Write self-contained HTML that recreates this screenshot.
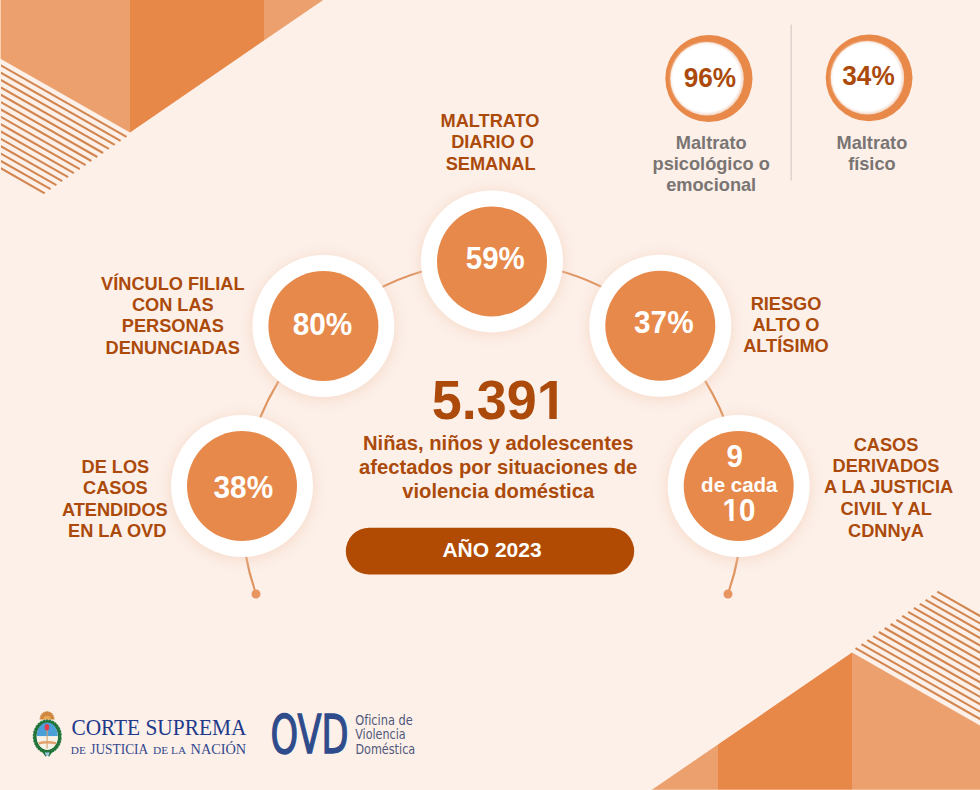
<!DOCTYPE html>
<html lang="es">
<head>
<meta charset="utf-8">
<title>OVD 2023</title>
<style>
html,body{margin:0;padding:0;}
body{width:980px;height:790px;overflow:hidden;background:#fcf0e9;position:relative;}
svg{position:absolute;left:0;top:0;display:block;}
text{font-family:"Liberation Sans",Arial,sans-serif;}
.b{font-weight:bold;}
.serif text{font-family:"Liberation Serif",serif;}
.dj text{font-family:"DejaVu Sans",sans-serif;font-stretch:condensed;}
.lbl{font-weight:bold;font-size:18.2px;fill:#ab4a0a;}
.gr{font-weight:bold;font-size:18.2px;fill:#7a7573;}
.wt{font-weight:bold;fill:#fff;}
</style>
</head>
<body>
<svg width="980" height="790" viewBox="0 0 980 790">
  <defs>
    <clipPath id="c1"><polygon points="420,370 580,370 580,425 567,425 567,412.9 556.72,412.9 556.72,425 549.32,425 549.32,412.9 539,412.9 539,425 420,425"/></clipPath>
    <clipPath id="c2"><polygon points="700,490 780,490 780,530 739.4,530 739.4,516.9 733.55,516.9 733.55,530 729.5,530 729.5,516.9 722.4,516.9 722.4,530 700,530"/></clipPath>
    <filter id="sb" x="-10%" y="-10%" width="120%" height="120%">
      <feGaussianBlur stdDeviation="1"/>
    </filter>
    <filter id="sh" x="-30%" y="-30%" width="160%" height="160%">
      <feGaussianBlur stdDeviation="7"/>
    </filter>
  </defs>
  <g>
      <polygon points="-30,-30 130,-30 130,132.4 -30,41.4" fill="#eca06e"/>
      <polygon points="130,-30 264,-30 264,40.5 130,132.4" fill="#e88848"/>
      <polygon points="264,-30 367,-30 264,40.5" fill="#eca06e"/>
      <g stroke="#d2854f" stroke-width="2.1">
        <line x1="-30" y1="47.8" x2="126.5" y2="136.9"/>
        <line x1="-30" y1="55.2" x2="120.6" y2="140.9"/>
        <line x1="-30" y1="62.5" x2="114.8" y2="144.9"/>
        <line x1="-30" y1="69.9" x2="108.9" y2="148.9"/>
        <line x1="-30" y1="77.2" x2="103.1" y2="153.0"/>
        <line x1="-30" y1="84.6" x2="97.3" y2="157.0"/>
        <line x1="-30" y1="91.9" x2="91.4" y2="161.0"/>
        <line x1="-30" y1="99.3" x2="85.6" y2="165.1"/>
        <line x1="-30" y1="106.6" x2="79.8" y2="169.1"/>
        <line x1="-30" y1="114.0" x2="73.9" y2="173.1"/>
        <line x1="-30" y1="121.3" x2="68.1" y2="177.1"/>
        <line x1="-30" y1="128.7" x2="62.2" y2="181.2"/>
        <line x1="-30" y1="136.0" x2="56.4" y2="185.2"/>
        <line x1="-30" y1="143.4" x2="50.6" y2="189.2"/>
        <line x1="-30" y1="150.7" x2="44.7" y2="193.3"/>
      </g>
  </g>
  <g transform="rotate(180 491 392.5)">
      <polygon points="-30,-30 130,-30 130,132.4 -30,41.4" fill="#eca06e"/>
      <polygon points="130,-30 264,-30 264,40.5 130,132.4" fill="#e88848"/>
      <polygon points="264,-30 367,-30 264,40.5" fill="#eca06e"/>
      <g stroke="#d2854f" stroke-width="2.1">
        <line x1="-30" y1="47.8" x2="126.5" y2="136.9"/>
        <line x1="-30" y1="55.2" x2="120.6" y2="140.9"/>
        <line x1="-30" y1="62.5" x2="114.8" y2="144.9"/>
        <line x1="-30" y1="69.9" x2="108.9" y2="148.9"/>
        <line x1="-30" y1="77.2" x2="103.1" y2="153.0"/>
        <line x1="-30" y1="84.6" x2="97.3" y2="157.0"/>
        <line x1="-30" y1="91.9" x2="91.4" y2="161.0"/>
        <line x1="-30" y1="99.3" x2="85.6" y2="165.1"/>
        <line x1="-30" y1="106.6" x2="79.8" y2="169.1"/>
        <line x1="-30" y1="114.0" x2="73.9" y2="173.1"/>
        <line x1="-30" y1="121.3" x2="68.1" y2="177.1"/>
        <line x1="-30" y1="128.7" x2="62.2" y2="181.2"/>
        <line x1="-30" y1="136.0" x2="56.4" y2="185.2"/>
        <line x1="-30" y1="143.4" x2="50.6" y2="189.2"/>
        <line x1="-30" y1="150.7" x2="44.7" y2="193.3"/>
      </g>
  </g>
  <rect x="0" y="0" width="1" height="58.6" fill="#fbd2ad"/>
  <rect x="0" y="58.6" width="1" height="120" fill="#fcf0e9"/>
  <rect x="652" y="789" width="328" height="1" fill="#ffffff" opacity="0.25"/>

  <!-- arc -->
  <path d="M256,594 A250,250 0 1 1 728,594" fill="none" stroke="#df9562" stroke-width="2.2"/>
  <circle cx="256" cy="594" r="4.5" fill="#e8955f"/>
  <circle cx="728" cy="594" r="4.5" fill="#e8955f"/>
  <!-- divider -->
  <line x1="791.2" y1="24.5" x2="791.2" y2="180.5" stroke="#d6ccc7" stroke-width="1.2"/>

  <!-- big circles -->
  <g id="bigc">
    <g fill="#f3c8b0" opacity="0.55" filter="url(#sh)">
      <circle cx="492" cy="263" r="72"/>
      <circle cx="323.4" cy="328" r="72"/>
      <circle cx="660.3" cy="328" r="72"/>
      <circle cx="242" cy="488" r="72"/>
      <circle cx="738.7" cy="488" r="72"/>
    </g>
    <g fill="#fff">
      <circle cx="492" cy="261.4" r="71"/>
      <circle cx="323.4" cy="326" r="71"/>
      <circle cx="660.3" cy="325.8" r="71"/>
      <circle cx="242" cy="486" r="71"/>
      <circle cx="738.7" cy="486" r="71"/>
    </g>
    <g fill="#e6894a">
      <circle cx="492" cy="261.4" r="55"/>
      <circle cx="323.4" cy="326" r="55"/>
      <circle cx="660.3" cy="325.8" r="55"/>
      <circle cx="242" cy="486" r="55"/>
      <circle cx="738.7" cy="486" r="55"/>
    </g>
  </g>

  <g class="wt" text-anchor="middle">
    <text transform="translate(495.3 269.3) scale(0.92 1)" font-size="32">59%</text>
    <text transform="translate(322.5 335.3) scale(0.93 1)" font-size="32">80%</text>
    <text transform="translate(663.8 333.2) scale(0.93 1)" font-size="32">37%</text>
    <text transform="translate(243.3 498.2) scale(0.93 1)" font-size="32">38%</text>
    <text text-anchor="start" font-size="30.5" transform="translate(726.41 466.6) scale(0.97 1)">9</text>
    <text x="739.3" y="491.5" font-size="20.5">de cada</text>
    <g clip-path="url(#c2)"><text text-anchor="start" font-size="30.5" transform="translate(722.58 520.8) scale(0.97 1)">10</text></g>
  </g>

  <!-- labels -->
  <g class="lbl" text-anchor="middle">
    <text x="490" y="126.8">MALTRATO</text>
    <text x="492.6" y="148.2">DIARIO O</text>
    <text x="490.6" y="169.6">SEMANAL</text>

    <text x="172.8" y="289.9">VÍNCULO FILIAL</text>
    <text x="172.8" y="311.2">CON LAS</text>
    <text x="172.8" y="332.4">PERSONAS</text>
    <text x="172.8" y="353.7">DENUNCIADAS</text>

    <text x="115.4" y="473.1">DE LOS</text>
    <text x="115.4" y="494">CASOS</text>
    <text x="114.8" y="515.7">ATENDIDOS</text>
    <text x="117.2" y="536.7">EN LA OVD</text>

    <text x="786" y="309.6">RIESGO</text>
    <text x="786" y="331.0">ALTO O</text>
    <text x="786" y="352.4">ALTÍSIMO</text>

    <text x="886" y="450.6">CASOS</text>
    <text x="886" y="471.7">DERIVADOS</text>
    <text x="888.6" y="493.4">A LA JUSTICIA</text>
    <text x="886.2" y="515.1">CIVIL Y AL</text>
    <text x="886" y="536.6">CDNNyA</text>
  </g>

  <!-- center -->
  <g clip-path="url(#c1)"><text class="b" fill="#ab4a0a" font-size="55.3" transform="translate(431.8 419.4) scale(0.975 1)">5.391</text></g>
  <g class="b" fill="#ab4a0a" text-anchor="middle" font-size="20.2">
    <text x="498.2" y="450.4">Niñas, niños y adolescentes</text>
    <text x="498.2" y="474.4">afectados por situaciones de</text>
    <text x="498.2" y="498.4">violencia doméstica</text>
  </g>
  <rect x="345.8" y="527.7" width="288.4" height="46.8" rx="23.4" fill="#b14a02"/>
  <text class="wt" x="492" y="556.6" font-size="21" text-anchor="middle">AÑO 2023</text>

  <!-- top right rings -->
  <g>
    <circle cx="708.9" cy="78.5" r="43.6" fill="#e8894a"/>
    <circle cx="707.1" cy="78.8" r="36.7" fill="#f4d8c8"/>
    <circle cx="706.2" cy="78.3" r="35.5" fill="#fff" filter="url(#sb)"/>
    <circle cx="869.1" cy="77.8" r="43.4" fill="#e8894a"/>
    <circle cx="867.5" cy="77.8" r="36.7" fill="#f4d8c8"/>
    <circle cx="866.6" cy="77.3" r="35.5" fill="#fff" filter="url(#sb)"/>
  </g>
  <g class="b" fill="#ab4a0a" text-anchor="middle" font-size="27">
    <text transform="translate(709.9 86.8) scale(0.97 1)">96%</text>
    <text transform="translate(868.5 85) scale(0.97 1)">34%</text>
  </g>
  <g class="gr" text-anchor="middle">
    <text x="711.2" y="148.6">Maltrato</text>
    <text x="711.2" y="170">psicológico o</text>
    <text x="711.2" y="191.4">emocional</text>
    <text x="871.9" y="148.6">Maltrato</text>
    <text x="871.9" y="170">físico</text>
  </g>

  <!-- coat of arms -->
  <g id="escudo">
    <path d="M39.4,719.6 A7.7,8.6 0 0 1 54.8,719.6 Z" fill="#cf873f"/>
    <path d="M39.4,719.6 A7.7,8.6 0 0 1 54.8,719.6" fill="none" stroke="#fcf0e9" stroke-width="1.6" stroke-dasharray="0.9 1.5"/>
    <path d="M43.2,719.6 A3.9,3.9 0 0 1 51,719.6 Z" fill="#e9a653"/>
    <ellipse cx="47.3" cy="736.5" rx="12.6" ry="15.1" fill="none" stroke="#1f7238" stroke-width="3.8"/>
    <ellipse cx="47.3" cy="736.5" rx="14.3" ry="16.8" fill="none" stroke="#fcf0e9" stroke-width="0.9" stroke-dasharray="1.2 2"/>
    <ellipse cx="47.3" cy="736.5" rx="12.6" ry="15.1" fill="none" stroke="#3c8a4c" stroke-width="0.7" stroke-dasharray="1.5 2.5"/>
    <path d="M36.8,736.2 A10.5,13.6 0 0 1 57.8,736.2 Z" fill="#4a9fd8"/>
    <path d="M36.8,736.2 A10.5,13.6 0 0 0 57.8,736.2 Z" fill="#f7f2e8"/>
    <line x1="47.1" y1="729" x2="47.1" y2="748.5" stroke="#d3a070" stroke-width="1.1"/>
    <path d="M38.2,742.2 Q47,739.6 56.4,742.2 L55.8,744.6 Q47,742.2 38.8,744.6 Z" fill="#e2a06c"/>
    <ellipse cx="46.9" cy="727.3" rx="2.3" ry="3.3" fill="#e23d4a"/>
    <path d="M40.5,749.5 L45.6,756.8 L47.6,754.6 Z M54.1,749.5 L49,756.8 L47,754.6 Z" fill="#1f7238"/>
    <path d="M45,752.5 L49.6,752.5 L48.8,755.5 L45.8,755.5 Z" fill="#9cc8e6"/>
  </g>

  <!-- Corte Suprema -->
  <g fill="#22398a" class="serif">
    <text x="71.4" y="734.8" font-size="22.8" textLength="175" lengthAdjust="spacingAndGlyphs">CORTE SUPREMA</text>
  </g>
  <g fill="#33478d" class="serif">
    <text x="70.8" y="753.5" font-size="11.3" textLength="15" lengthAdjust="spacingAndGlyphs">DE</text>
    <text x="90.3" y="753.5" font-size="14.2" textLength="57.8" lengthAdjust="spacingAndGlyphs">JUSTICIA</text>
    <text x="153.1" y="753.5" font-size="11.3" textLength="33.1" lengthAdjust="spacingAndGlyphs">DE LA</text>
    <text x="190.6" y="753.5" font-size="14.2" textLength="55.6" lengthAdjust="spacingAndGlyphs">NACIÓN</text>
  </g>

  <!-- OVD -->
  <text x="270.6" y="753.3" font-size="52.5" font-stretch="condensed" fill="#2e4b8b" stroke="#2e4b8b" stroke-width="1.3" textLength="78" lengthAdjust="spacingAndGlyphs" style="font-family:'DejaVu Sans',sans-serif">OVD</text>
  <g fill="#50587a" font-size="13.6" class="dj">
    <text x="355.2" y="725.4" textLength="57.6" lengthAdjust="spacingAndGlyphs">Oficina de</text>
    <text x="355.2" y="739.4" textLength="50.5" lengthAdjust="spacingAndGlyphs">Violencia</text>
    <text x="355.4" y="753.8" textLength="59.8" lengthAdjust="spacingAndGlyphs">Doméstica</text>
  </g>
</svg>
</body>
</html>
